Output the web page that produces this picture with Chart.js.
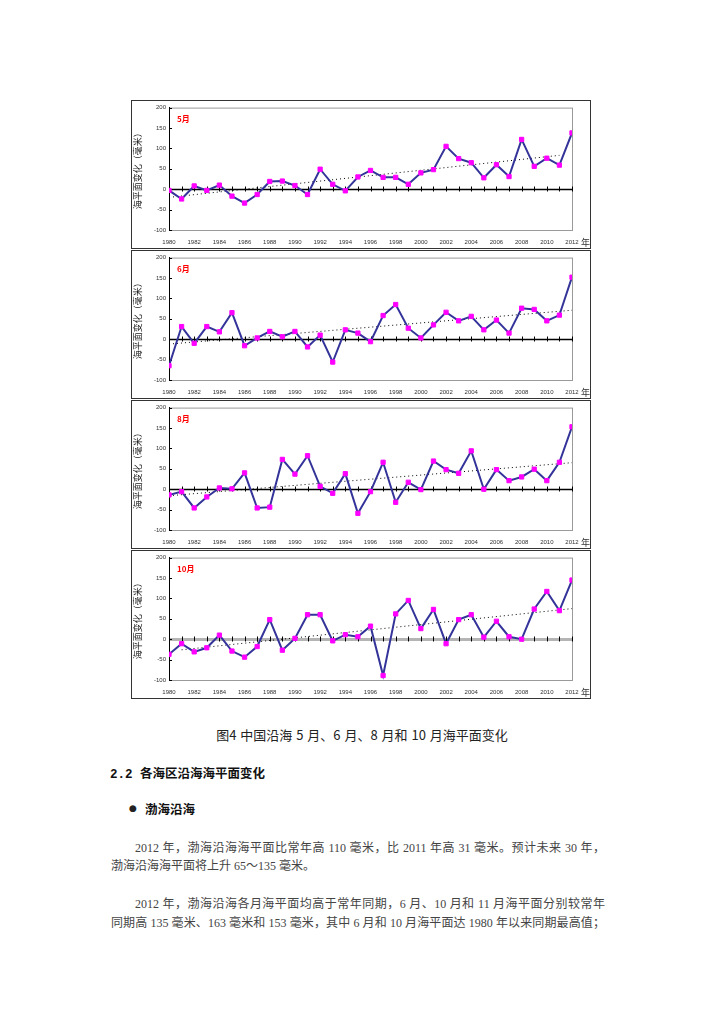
<!DOCTYPE html>
<html>
<head>
<meta charset="utf-8">
<script src="https://cdn.jsdelivr.net/npm/chart.js@4.4.0/dist/chart.umd.min.js"></script>
<style>
  body { margin: 0; background: #fff; width: 724px; height: 1024px; position: relative; overflow: hidden;
         font-family: "Liberation Serif", "Noto Sans CJK SC", serif; color: #333; }
  .panel { position: absolute; left: 131px; width: 458px; height: 147px; border: 1px solid #333; background: #fff; }
  .panel canvas { position: absolute; left: 0; top: 0; }
  .nian { position: absolute; left: 449px; top: 137px; font-size: 9px; line-height: 10px; color: #333;
          font-family: "Noto Sans CJK SC", sans-serif; }
  .caption { position: absolute; left: 0; width: 724px; top: 725px; text-align: center; font-size: 13px;
             font-family: "Noto Sans CJK SC", sans-serif; color: #222; word-spacing: 1px; }
  .heading { position: absolute; left: 110px; top: 763px; font-size: 12.5px; font-weight: bold; color: #111;
             font-family: "Liberation Mono", "Noto Sans CJK SC", monospace; }
  .bullet { position: absolute; left: 129px; top: 802px; font-size: 9px; line-height: 12px; color: #222;
            font-family: "DejaVu Sans", sans-serif; }
  .bullet-text { position: absolute; left: 145px; top: 799px; font-size: 12.5px; font-weight: bold; color: #111;
                 font-family: "Noto Sans CJK SC", sans-serif; }
  .line { position: absolute; left: 111px; width: 494px; font-size: 12px; line-height: 18px; white-space: nowrap; color: #444; }
  .full { text-align: justify; text-align-last: justify; white-space: normal; }
  .indent { left: 135px; width: 470px; }
</style>
</head>
<body>

<div class="panel" style="top:100px"><canvas id="chart_may" width="458" height="147"></canvas><div class="nian">年</div></div>
<div class="panel" style="top:250px"><canvas id="chart_jun" width="458" height="147"></canvas><div class="nian">年</div></div>
<div class="panel" style="top:400px"><canvas id="chart_aug" width="458" height="147"></canvas><div class="nian">年</div></div>
<div class="panel" style="top:550px"><canvas id="chart_oct" width="458" height="147"></canvas><div class="nian">年</div></div>

<div class="caption">图4 中国沿海 5 月、6 月、8 月和 10 月海平面变化</div>
<div class="heading">2.2 各海区沿海海平面变化</div>
<div class="bullet">●</div>
<div class="bullet-text">渤海沿海</div>

<div class="line full indent" style="top:839px">2012 年，渤海沿海海平面比常年高 110 毫米，比 2011 年高 31 毫米。预计未来 30 年，</div>
<div class="line" style="top:857px">渤海沿海海平面将上升 65～135 毫米。</div>
<div class="line full indent" style="top:895px">2012 年，渤海沿海各月海平面均高于常年同期，6 月、10 月和 11 月海平面分别较常年</div>
<div class="line full" style="top:914px">同期高 135 毫米、163 毫米和 153 毫米，其中 6 月和 10 月海平面达 1980 年以来同期最高值；</div>

<script>
// years on the x axis
const years = [1980, 1981, 1982, 1983, 1984, 1985, 1986, 1987, 1988, 1989, 1990,
  1991, 1992, 1993, 1994, 1995, 1996, 1997, 1998, 1999, 2000,
  2001, 2002, 2003, 2004, 2005, 2006, 2007, 2008, 2009, 2010, 2011, 2012];

// sea level anomaly (mm)
const mayValues = [-3, -24, 8, -3, 10, -17, -34, -13, 19, 20, 9, -13, 49, 12, -4, 30, 46, 29, 29, 12, 40,
  48, 105, 75, 65, 28, 60, 31, 122, 56, 76, 59, 138];
const junValues = [-65, 31, -10, 31, 18, 65, -16, 3, 19, 6, 19, -19, 10, -56, 23, 15, -6, 58, 85, 27, 3,
  35, 66, 45, 56, 23, 47, 15, 76, 73, 45, 59, 152];
const augValues = [-14, -6, -46, -19, 3, 1, 40, -46, -44, 73, 37, 82, 7, -10, 38, -59, -6, 66, -32, 17, -1,
  69, 48, 39, 94, 0, 48, 21, 30, 49, 21, 66, 153];
const octValues = [-37, -11, -31, -21, 10, -29, -44, -18, 48, -27, 2, 60, 60, -4, 11, 6, 32, -89, 62, 95, 26,
  73, -11, 48, 60, 5, 44, 6, 0, 74, 117, 70, 145];

// dotted trend lines: start / end as seen in the figure
const mayTrendYears = [1980, 2011];
const mayTrendValues = [-20, 83];
const junTrendYears = [1980, 2012];
const junTrendValues = [-12, 71];
const augTrendYears = [1980, 2012];
const augTrendValues = [-16, 65];
const octTrendYears = [1981, 2012];
const octTrendValues = [-26, 75];

const yTicks = [-100, -50, 0, 50, 100, 150, 200];
const axisTitle = '海平面变化（毫米）';

function toPoints(xs, ys) {
  return xs.map((x, i) => ({ x: x, y: ys[i] }));
}

// plot frame, zero axis with year ticks, month label
const panelDeco = {
  id: 'panelDeco',
  beforeDraw(chart, args, opts) {
    const { ctx, chartArea: a } = chart;
    ctx.save();
    ctx.strokeStyle = '#9a9a9a';
    ctx.lineWidth = 1;
    ctx.strokeRect(a.left + 0.5, a.top + 0.5, a.width, a.height);
    ctx.restore();
  },
  beforeDatasetsDraw(chart, args, opts) {
    const { ctx, chartArea: a, scales } = chart;
    const y0 = Math.round(scales.y.getPixelForValue(0)) + 0.5;
    ctx.save();
    ctx.strokeStyle = opts.zeroColor;
    ctx.lineWidth = opts.zeroWidth;
    ctx.beginPath();
    ctx.moveTo(a.left, y0);
    ctx.lineTo(a.right, y0);
    ctx.stroke();
    // year ticks along the zero line
    ctx.strokeStyle = '#000';
    ctx.lineWidth = 1;
    ctx.beginPath();
    years.forEach(yr => {
      const px = Math.round(scales.x.getPixelForValue(yr)) + 0.5;
      ctx.moveTo(px, y0 - 3);
      ctx.lineTo(px, y0 + 2);
    });
    // small inner ticks on the value axis
    yTicks.forEach(v => {
      const py = Math.round(scales.y.getPixelForValue(v)) + 0.5;
      ctx.moveTo(a.left, py);
      ctx.lineTo(a.left + 3, py);
    });
    ctx.stroke();
    ctx.restore();
  },
  afterDraw(chart, args, opts) {
    const { ctx, chartArea: a } = chart;
    ctx.save();
    ctx.fillStyle = '#ff0000';
    ctx.font = 'bold 8px "Noto Sans CJK SC", sans-serif';
    ctx.textBaseline = 'middle';
    ctx.fillText(opts.month, a.left + 8, a.top + 11);
    ctx.restore();
  }
};

function createChart(chartId, month, values, trendYears, trendValues, zeroColor, zeroWidth) {
  const ctx = document.getElementById(chartId).getContext('2d');
  return new Chart(ctx, {
    type: 'line',
    data: {
      datasets: [{
        data: toPoints(years, values),
        borderColor: '#333399',
        borderWidth: 2,
        tension: 0,
        pointStyle: 'rect',
        pointRadius: 3,
        pointBackgroundColor: '#ff00ff',
        pointBorderColor: '#ff00ff',
        pointBorderWidth: 1,
      }, {
        data: toPoints(trendYears, trendValues),
        borderColor: '#000',
        borderWidth: 1,
        borderDash: [1, 3],
        pointRadius: 0,
      }]
    },
    options: {
      responsive: false,
      animation: false,
      events: [],
      layout: { padding: { left: 0, right: 18, top: 6, bottom: 0 } },
      scales: {
        x: {
          type: 'linear',
          min: 1980,
          max: 2012,
          afterFit: s => { s.height = 18; },
          grid: { display: false, drawTicks: false },
          border: { display: false },
          ticks: {
            stepSize: 2,
            padding: 9,
            maxRotation: 0,
            autoSkip: false,
            color: '#333',
            font: { size: 6, family: 'Liberation Sans' },
            callback: v => String(v),
          }
        },
        y: {
          min: -100,
          max: 200,
          afterFit: s => { s.width = 37; },
          grid: { display: false, drawTicks: false },
          border: { display: true, color: '#000', width: 1 },
          ticks: {
            stepSize: 50,
            padding: 3,
            color: '#333',
            font: { size: 6, family: 'Liberation Sans' },
          },
          title: {
            display: true,
            text: axisTitle,
            color: '#222',
            padding: { top: 0, bottom: 0 },
            font: { size: 9, family: 'Noto Sans CJK SC' },
          }
        }
      },
      plugins: {
        legend: { display: false },
        tooltip: { enabled: false },
        panelDeco: { month: month, zeroColor: zeroColor, zeroWidth: zeroWidth },
      },
    },
    plugins: [panelDeco]
  });
}

createChart('chart_may', '5月', mayValues, mayTrendYears, mayTrendValues, '#000', 1.5);
createChart('chart_jun', '6月', junValues, junTrendYears, junTrendValues, '#000', 1.5);
createChart('chart_aug', '8月', augValues, augTrendYears, augTrendValues, '#000', 1.5);
createChart('chart_oct', '10月', octValues, octTrendYears, octTrendValues, '#b4b4b4', 3);
</script>
</body>
</html>
